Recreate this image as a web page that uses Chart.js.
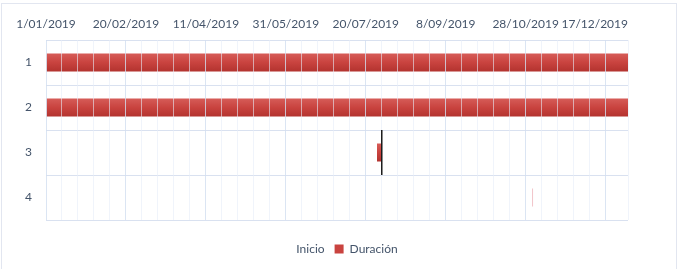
<!DOCTYPE html>
<html lang="es">
<head>
    <meta charset="UTF-8">
    <title>Gantt</title>
    <script src="https://cdn.jsdelivr.net/npm/chart.js"></script>
    <style>
        body { margin: 0; background: #fff; width: 679px; height: 269px; overflow: hidden; position: relative; }
        #caja { position: absolute; left: 1px; top: 1px; }
        #marco { position: absolute; left: 1px; top: 3px; width: 674px; height: 300px; border: 1px solid #e2e6f0; }
    </style>
</head>
<body>
    <div id="marco"></div>
    <div id="caja">
        <canvas id="grafico1" width="677" height="267"></canvas>
    </div>

    <script>
        // datos
        const tareas = ['1', '2', '3', '4'];
        const inicio = ['2019-01-01', '2019-01-01', '2019-07-27', '2019-11-01'];
        const duracion = [364, 364, 3, 0.6];
        const marcas = [null, null, '2019-07-30', null]; // linea negra en la tarea 3
        const fechaMin = '2019-01-01';
        const fechaMax = '2019-12-31';
        const pasoMayor = 50;
        const pasoMenor = 10;

        const base = Date.parse(fechaMin);
        const dias = f => (Date.parse(f) - base) / 86400000;

        function etiqueta(v) {
            const d = new Date(base + v * 86400000);
            return d.getUTCDate() + '/' + String(d.getUTCMonth() + 1).padStart(2, '0') + '/' + d.getUTCFullYear();
        }

        const fuente = { family: 'Lato', size: 12 };
        const colorTexto = '#44546a';

        function rojo(c) {
            const chart = c.chart;
            if (!chart.chartArea) return '#c0504d';
            const y = chart.scales.y;
            const h = y.getPixelForValue(1) - y.getPixelForValue(0);
            const yc = y.getPixelForValue(c.dataIndex);
            const g = chart.ctx.createLinearGradient(0, yc - h * 0.2, 0, yc + h * 0.2);
            g.addColorStop(0, '#d65c58');
            g.addColorStop(0.5, '#c9433f');
            g.addColorStop(1, '#b3332f');
            return c.dataIndex === 3 ? 'rgba(225,120,130,0.45)' : g;
        }

        // linea vertical de marca
        const lineaMarca = {
            id: 'lineaMarca',
            afterDraw(chart) {
                const x = chart.scales.x, y = chart.scales.y, ctx = chart.ctx;
                const h = y.getPixelForValue(1) - y.getPixelForValue(0);
                ctx.save();
                ctx.strokeStyle = '#1a1a1a';
                ctx.lineWidth = 1.5;
                marcas.forEach((m, i) => {
                    if (!m) return;
                    const px = x.getPixelForValue(dias(m));
                    const py = y.getPixelForValue(i);
                    ctx.beginPath();
                    ctx.moveTo(px, py - h / 2);
                    ctx.lineTo(px, py + h / 2);
                    ctx.stroke();
                });
                ctx.restore();
            }
        };

        // la ultima fecha no se sale del area del grafico (como en Excel)
        const ajusteEtiqueta = {
            id: 'ajusteEtiqueta',
            beforeDraw(chart) {
                const x = chart.scales.x;
                if (!x.getLabelItems) return;
                const items = x.getLabelItems(chart.chartArea).filter(it => it.label);
                const ult = items[items.length - 1];
                if (!ult || !ult.options || !ult.options.translation) return;
                chart.ctx.save();
                chart.ctx.font = fuente.size + 'px ' + fuente.family;
                const w = chart.ctx.measureText(ult.label).width;
                chart.ctx.restore();
                const t = ult.options.translation;
                if (t[0] + w / 2 > chart.chartArea.right) t[0] = chart.chartArea.right - w / 2;
            }
        };

        // ejes vacios solo para dejar margen (derecha y abajo)
        const ejeVacio = (pos, tam) => ({
            type: 'linear',
            position: pos,
            display: true,
            grid: { display: false },
            border: { display: false },
            ticks: { display: false },
            afterFit(s) { if (pos === 'right') s.width = tam; else s.height = tam; }
        });

        const ctx = document.getElementById('grafico1');
        let grafico1 = new Chart(ctx, {
            type: 'bar',
            data: {
                labels: tareas,
                datasets: [{
                    label: 'Inicio',
                    data: inicio.map(dias),
                    backgroundColor: 'rgba(0,0,0,0)',
                    borderWidth: 0
                }, {
                    label: 'Duración',
                    data: duracion,
                    backgroundColor: rojo,
                    borderWidth: 0
                }]
            },
            options: {
                indexAxis: 'y',
                responsive: false,
                animation: false,
                barPercentage: 1,
                categoryPercentage: 0.4,
                layout: { padding: { left: 0, right: 0, top: 0, bottom: 3 } },
                plugins: {
                    tooltip: { enabled: false },
                    legend: {
                        position: 'bottom',
                        labels: {
                            font: fuente,
                            color: colorTexto,
                            boxWidth: 9,
                            boxHeight: 9,
                            padding: 10,
                            generateLabels(chart) {
                                return chart.data.datasets.map((ds, i) => ({
                                    text: ds.label,
                                    fillStyle: i === 0 ? 'rgba(0,0,0,0)' : '#c9433f',
                                    strokeStyle: 'rgba(0,0,0,0)',
                                    lineWidth: 0,
                                    fontColor: colorTexto,
                                    datasetIndex: i
                                }));
                            }
                        }
                    }
                },
                scales: {
                    x: {
                        type: 'linear',
                        position: 'top',
                        stacked: true,
                        min: 0,
                        max: dias(fechaMax),
                        border: { display: false },
                        afterFit(s) { s.height = 39; },
                        ticks: {
                            stepSize: pasoMenor,
                            autoSkip: false,
                            maxRotation: 0,
                            padding: 9,
                            font: fuente,
                            color: colorTexto,
                            callback: v => (v % pasoMayor === 0 ? etiqueta(v) : '')
                        },
                        grid: {
                            z: 1,
                            drawTicks: false,
                            lineWidth: 1,
                            color: c => (c.tick && c.tick.value % pasoMayor === 0)
                                ? 'rgba(210,222,240,0.8)' : 'rgba(230,236,248,0.6)'
                        }
                    },
                    y: {
                        stacked: true,
                        border: { display: false },
                        afterFit(s) { s.width = 45; },
                        ticks: { font: fuente, color: colorTexto, padding: 14 },
                        grid: { drawTicks: false, color: '#d9e1f0', offset: true }
                    },
                    margenDer: ejeVacio('right', 50),
                    margenAbajo: ejeVacio('bottom', 13)
                }
            },
            plugins: [lineaMarca, ajusteEtiqueta]
        });
    </script>
</body>
</html>
